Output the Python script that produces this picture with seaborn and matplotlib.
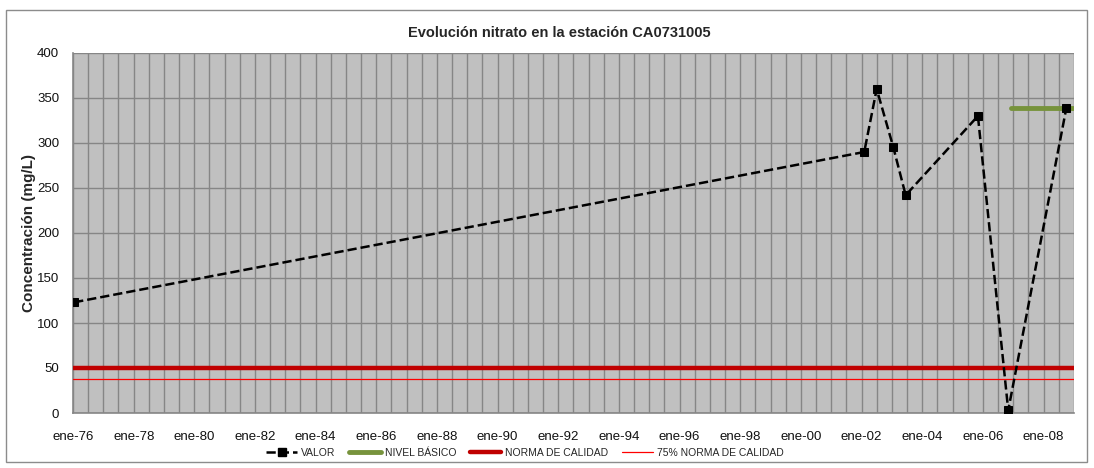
import numpy as np
import pandas as pd
import matplotlib
matplotlib.use("Agg")
import matplotlib.pyplot as plt
import matplotlib.dates as mdates
from matplotlib.lines import Line2D
from matplotlib.patches import Rectangle
import seaborn as sns

# Nitrate samples at station CA0731005
fechas = ["1976-01-15", "2002-02-01", "2002-07-01", "2003-01-15",
          "2003-06-15", "2005-11-01", "2006-11-01", "2008-10-01"]
valores = [123, 290, 360, 296, 242, 330, 3, 339]

# Baseline level (nivel básico) period
fechas_basico = ["2006-12-01", "2009-01-01"]
nivel_basico = [339, 339]

# Quality standard and 75 % of it
norma_calidad = 50
norma_75 = 0.75 * norma_calidad

x_inicio, x_fin = "1976-01-01", "2009-01-01"
titulo = "Evolución nitrato en la estación CA0731005"
etiqueta_y = "Concentración (mg/L)"

df = pd.DataFrame({"fecha": pd.to_datetime(fechas), "valor": valores})
df_basico = pd.DataFrame({"fecha": pd.to_datetime(fechas_basico), "valor": nivel_basico})

sns.set_style("white")
plt.rcParams["font.family"] = ["Liberation Sans", "DejaVu Sans"]

fig = plt.figure(figsize=(10.94, 4.68), dpi=100)
W, H = 1094, 468
ax = fig.add_axes([73 / W, 1 - 413 / H, (1074 - 73) / W, (413 - 53) / H])
ax.set_facecolor("#C0C0C0")

# outer chart frame
fig.patches.append(Rectangle((6 / W, 1 - 462 / H), (1087 - 6) / W, (462 - 10) / H,
                             transform=fig.transFigure, fill=False,
                             edgecolor="#8C8C8C", linewidth=1.0))

grid_col = "#868686"

sns.lineplot(data=df, x="fecha", y="valor", ax=ax, color="black",
             linestyle="--", linewidth=1.8, marker="s", markersize=6,
             markeredgecolor="black", sort=False, zorder=5)
sns.lineplot(data=df_basico, x="fecha", y="valor", ax=ax, color="#77933C",
             linewidth=3.5, zorder=4, solid_capstyle="round")
ax.axhline(norma_calidad, color="#C00000", linewidth=3.2, zorder=3)
ax.axhline(norma_75, color="#FF0000", linewidth=0.9, zorder=3)

ax.set_xlim(pd.Timestamp(x_inicio), pd.Timestamp(x_fin))
ax.set_ylim(0, 400)
ax.set_yticks(np.arange(0, 401, 50))

ax.xaxis.set_major_locator(mdates.YearLocator(2, month=1, day=1))
ax.xaxis.set_major_formatter(mdates.DateFormatter("ene-%y"))
ax.xaxis.set_minor_locator(mdates.MonthLocator(bymonth=[1, 7]))

ax.grid(which="both", axis="x", color=grid_col, linewidth=1.0, zorder=0)
ax.grid(which="major", axis="y", color=grid_col, linewidth=1.0, zorder=0)
ax.set_axisbelow(True)

ax.tick_params(axis="x", which="major", direction="out", length=4, width=1,
               color=grid_col, pad=9, labelsize=9.5, labelcolor="#111111")
ax.tick_params(axis="x", which="minor", length=0)
ax.tick_params(axis="y", direction="out", length=4, width=1, color=grid_col,
               pad=6, labelsize=9.5, labelcolor="#111111")

for side in ["top", "right"]:
    ax.spines[side].set_visible(False)
for side in ["left", "bottom"]:
    ax.spines[side].set_color(grid_col)
    ax.spines[side].set_linewidth(1.2)

ax.set_xlabel("")
ax.set_ylabel(etiqueta_y, fontsize=11, fontweight="bold")
ax.yaxis.set_label_coords((36 - 73) / (1074 - 73), 0.5)

fig.text(559 / W, 1 - 33 / H, titulo, ha="center", va="center",
         fontsize=10.5, fontweight="bold")

handles = [
    Line2D([], [], color="black", linestyle="--", linewidth=1.8, marker="s",
           markersize=6),
    Line2D([], [], color="#77933C", linewidth=3.5),
    Line2D([], [], color="#C00000", linewidth=3.2),
    Line2D([], [], color="#FF0000", linewidth=0.9),
]
labels = ["VALOR", "NIVEL BÁSICO", "NORMA DE CALIDAD", "75% NORMA DE CALIDAD"]
fig.legend(handles, labels, loc="center", bbox_to_anchor=(525 / W, 1 - 453 / H),
           ncol=4, frameon=False, prop={"size": 7.5},
           handlelength=3.0, handletextpad=0.4, columnspacing=1.3,
           borderpad=0, borderaxespad=0)

fig.savefig("out.png", dpi=100)
